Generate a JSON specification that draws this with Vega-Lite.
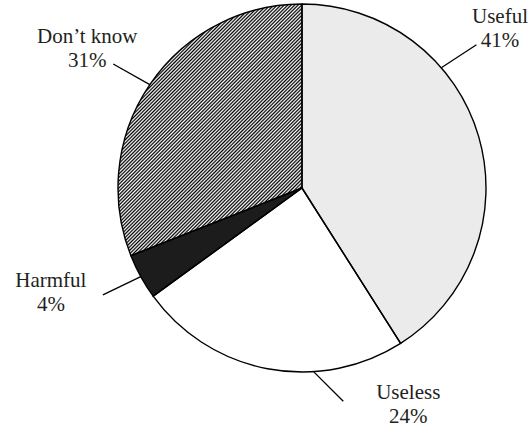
{
  "$schema": "https://vega.github.io/schema/vega-lite/v6.json",
  "width": 368,
  "height": 368,
  "autosize": {"type": "none"},
  "padding": {"left": 118, "top": 4, "right": 43, "bottom": 57},
  "background": "white",
  "config": {"view": {"stroke": null}},
  "data": {
    "values": [
      {"category": "Useful", "percent": 41},
      {"category": "Useless", "percent": 24},
      {"category": "Harmful", "percent": 4},
      {"category": "Don’t know", "percent": 31}
    ]
  },
  "transform": [
    {"window": [{"op": "sum", "field": "percent", "as": "cum"}], "frame": [null, 0]},
    {"calculate": "datum.cum - datum.percent", "as": "start"},
    {"calculate": "(datum.start + datum.percent * (datum.start < 50 ? 1/3 : 1/2)) * 2 * PI / 100", "as": "a"},
    {"calculate": "sin(datum.a) < 0 ? -1 : 1", "as": "side"},
    {"calculate": "184 * sin(datum.a)", "as": "px1"},
    {"calculate": "184 * cos(datum.a)", "as": "py1"},
    {"calculate": "sqrt(1 + pow(cos(datum.a), 2))", "as": "n"},
    {"calculate": "datum.px1 + 42 * datum.side / datum.n", "as": "px2"},
    {"calculate": "datum.py1 + 42 * cos(datum.a) / datum.n", "as": "py2"},
    {"calculate": "clamp(datum.px2 + datum.side * (40 - 25 * cos(datum.a)), -260, 198)", "as": "lx"},
    {"calculate": "datum.py2 + 20 + 12 * cos(datum.a)", "as": "ly"},
    {"calculate": "[datum.category, datum.percent + '%']", "as": "label"}
  ],
  "layer": [
    {
      "mark": {"type": "arc"},
      "encoding": {
        "theta": {"field": "start", "type": "quantitative", "scale": {"domain": [0, 100]}},
        "theta2": {"field": "cum"},
        "color": {
          "field": "category",
          "type": "nominal",
          "scale": {
            "domain": ["Useful", "Useless", "Harmful", "Don’t know"],
            "range": ["#ebebeb", "#ffffff", "#1c1c1c", "#808080"]
          },
          "legend": null
        }
      }
    },
    {
      "transform": [{"filter": "datum.category === 'Don’t know'"}],
      "mark": {
        "type": "arc",
        "fill": {
          "gradient": "linear",
          "x1": 0, "y1": 0, "x2": 0.825, "y2": 1.128,
          "stops": [
            {"offset": 0, "color": "#000"}, {"offset": 0.004, "color": "#fff"}, {"offset": 0.008, "color": "#000"}, {"offset": 0.012, "color": "#fff"}, {"offset": 0.016, "color": "#000"}, {"offset": 0.02, "color": "#fff"}, {"offset": 0.024, "color": "#000"}, {"offset": 0.028, "color": "#fff"}, {"offset": 0.032, "color": "#000"}, {"offset": 0.036, "color": "#fff"},
            {"offset": 0.04, "color": "#000"}, {"offset": 0.044, "color": "#fff"}, {"offset": 0.048, "color": "#000"}, {"offset": 0.052, "color": "#fff"}, {"offset": 0.056, "color": "#000"}, {"offset": 0.06, "color": "#fff"}, {"offset": 0.064, "color": "#000"}, {"offset": 0.068, "color": "#fff"}, {"offset": 0.072, "color": "#000"}, {"offset": 0.076, "color": "#fff"},
            {"offset": 0.08, "color": "#000"}, {"offset": 0.084, "color": "#fff"}, {"offset": 0.088, "color": "#000"}, {"offset": 0.092, "color": "#fff"}, {"offset": 0.096, "color": "#000"}, {"offset": 0.1, "color": "#fff"}, {"offset": 0.104, "color": "#000"}, {"offset": 0.108, "color": "#fff"}, {"offset": 0.112, "color": "#000"}, {"offset": 0.116, "color": "#fff"},
            {"offset": 0.12, "color": "#000"}, {"offset": 0.124, "color": "#fff"}, {"offset": 0.128, "color": "#000"}, {"offset": 0.132, "color": "#fff"}, {"offset": 0.136, "color": "#000"}, {"offset": 0.14, "color": "#fff"}, {"offset": 0.144, "color": "#000"}, {"offset": 0.148, "color": "#fff"}, {"offset": 0.152, "color": "#000"}, {"offset": 0.156, "color": "#fff"},
            {"offset": 0.16, "color": "#000"}, {"offset": 0.164, "color": "#fff"}, {"offset": 0.168, "color": "#000"}, {"offset": 0.172, "color": "#fff"}, {"offset": 0.176, "color": "#000"}, {"offset": 0.18, "color": "#fff"}, {"offset": 0.184, "color": "#000"}, {"offset": 0.188, "color": "#fff"}, {"offset": 0.192, "color": "#000"}, {"offset": 0.196, "color": "#fff"},
            {"offset": 0.2, "color": "#000"}, {"offset": 0.204, "color": "#fff"}, {"offset": 0.208, "color": "#000"}, {"offset": 0.212, "color": "#fff"}, {"offset": 0.216, "color": "#000"}, {"offset": 0.22, "color": "#fff"}, {"offset": 0.224, "color": "#000"}, {"offset": 0.228, "color": "#fff"}, {"offset": 0.232, "color": "#000"}, {"offset": 0.236, "color": "#fff"},
            {"offset": 0.24, "color": "#000"}, {"offset": 0.244, "color": "#fff"}, {"offset": 0.248, "color": "#000"}, {"offset": 0.252, "color": "#fff"}, {"offset": 0.256, "color": "#000"}, {"offset": 0.26, "color": "#fff"}, {"offset": 0.264, "color": "#000"}, {"offset": 0.268, "color": "#fff"}, {"offset": 0.272, "color": "#000"}, {"offset": 0.276, "color": "#fff"},
            {"offset": 0.28, "color": "#000"}, {"offset": 0.284, "color": "#fff"}, {"offset": 0.288, "color": "#000"}, {"offset": 0.292, "color": "#fff"}, {"offset": 0.296, "color": "#000"}, {"offset": 0.3, "color": "#fff"}, {"offset": 0.304, "color": "#000"}, {"offset": 0.308, "color": "#fff"}, {"offset": 0.312, "color": "#000"}, {"offset": 0.316, "color": "#fff"},
            {"offset": 0.32, "color": "#000"}, {"offset": 0.324, "color": "#fff"}, {"offset": 0.328, "color": "#000"}, {"offset": 0.332, "color": "#fff"}, {"offset": 0.336, "color": "#000"}, {"offset": 0.34, "color": "#fff"}, {"offset": 0.344, "color": "#000"}, {"offset": 0.348, "color": "#fff"}, {"offset": 0.352, "color": "#000"}, {"offset": 0.356, "color": "#fff"},
            {"offset": 0.36, "color": "#000"}, {"offset": 0.364, "color": "#fff"}, {"offset": 0.368, "color": "#000"}, {"offset": 0.372, "color": "#fff"}, {"offset": 0.376, "color": "#000"}, {"offset": 0.38, "color": "#fff"}, {"offset": 0.384, "color": "#000"}, {"offset": 0.388, "color": "#fff"}, {"offset": 0.392, "color": "#000"}, {"offset": 0.396, "color": "#fff"},
            {"offset": 0.4, "color": "#000"}, {"offset": 0.404, "color": "#fff"}, {"offset": 0.408, "color": "#000"}, {"offset": 0.412, "color": "#fff"}, {"offset": 0.416, "color": "#000"}, {"offset": 0.42, "color": "#fff"}, {"offset": 0.424, "color": "#000"}, {"offset": 0.428, "color": "#fff"}, {"offset": 0.432, "color": "#000"}, {"offset": 0.436, "color": "#fff"},
            {"offset": 0.44, "color": "#000"}, {"offset": 0.444, "color": "#fff"}, {"offset": 0.448, "color": "#000"}, {"offset": 0.452, "color": "#fff"}, {"offset": 0.456, "color": "#000"}, {"offset": 0.46, "color": "#fff"}, {"offset": 0.464, "color": "#000"}, {"offset": 0.468, "color": "#fff"}, {"offset": 0.472, "color": "#000"}, {"offset": 0.476, "color": "#fff"},
            {"offset": 0.48, "color": "#000"}, {"offset": 0.484, "color": "#fff"}, {"offset": 0.488, "color": "#000"}, {"offset": 0.492, "color": "#fff"}, {"offset": 0.496, "color": "#000"}, {"offset": 0.5, "color": "#fff"}, {"offset": 0.504, "color": "#000"}, {"offset": 0.508, "color": "#fff"}, {"offset": 0.512, "color": "#000"}, {"offset": 0.516, "color": "#fff"},
            {"offset": 0.52, "color": "#000"}, {"offset": 0.524, "color": "#fff"}, {"offset": 0.528, "color": "#000"}, {"offset": 0.532, "color": "#fff"}, {"offset": 0.536, "color": "#000"}, {"offset": 0.54, "color": "#fff"}, {"offset": 0.544, "color": "#000"}, {"offset": 0.548, "color": "#fff"}, {"offset": 0.552, "color": "#000"}, {"offset": 0.556, "color": "#fff"},
            {"offset": 0.56, "color": "#000"}, {"offset": 0.564, "color": "#fff"}, {"offset": 0.568, "color": "#000"}, {"offset": 0.572, "color": "#fff"}, {"offset": 0.576, "color": "#000"}, {"offset": 0.58, "color": "#fff"}, {"offset": 0.584, "color": "#000"}, {"offset": 0.588, "color": "#fff"}, {"offset": 0.592, "color": "#000"}, {"offset": 0.596, "color": "#fff"},
            {"offset": 0.6, "color": "#000"}, {"offset": 0.604, "color": "#fff"}, {"offset": 0.608, "color": "#000"}, {"offset": 0.612, "color": "#fff"}, {"offset": 0.616, "color": "#000"}, {"offset": 0.62, "color": "#fff"}, {"offset": 0.624, "color": "#000"}, {"offset": 0.628, "color": "#fff"}, {"offset": 0.632, "color": "#000"}, {"offset": 0.636, "color": "#fff"},
            {"offset": 0.64, "color": "#000"}, {"offset": 0.644, "color": "#fff"}, {"offset": 0.648, "color": "#000"}, {"offset": 0.652, "color": "#fff"}, {"offset": 0.656, "color": "#000"}, {"offset": 0.66, "color": "#fff"}, {"offset": 0.664, "color": "#000"}, {"offset": 0.668, "color": "#fff"}, {"offset": 0.672, "color": "#000"}, {"offset": 0.676, "color": "#fff"},
            {"offset": 0.68, "color": "#000"}, {"offset": 0.684, "color": "#fff"}, {"offset": 0.688, "color": "#000"}, {"offset": 0.692, "color": "#fff"}, {"offset": 0.696, "color": "#000"}, {"offset": 0.7, "color": "#fff"}, {"offset": 0.704, "color": "#000"}, {"offset": 0.708, "color": "#fff"}, {"offset": 0.712, "color": "#000"}, {"offset": 0.716, "color": "#fff"},
            {"offset": 0.72, "color": "#000"}, {"offset": 0.724, "color": "#fff"}, {"offset": 0.728, "color": "#000"}, {"offset": 0.732, "color": "#fff"}, {"offset": 0.736, "color": "#000"}, {"offset": 0.74, "color": "#fff"}, {"offset": 0.744, "color": "#000"}, {"offset": 0.748, "color": "#fff"}, {"offset": 0.752, "color": "#000"}, {"offset": 0.756, "color": "#fff"},
            {"offset": 0.76, "color": "#000"}, {"offset": 0.764, "color": "#fff"}, {"offset": 0.768, "color": "#000"}, {"offset": 0.772, "color": "#fff"}, {"offset": 0.776, "color": "#000"}, {"offset": 0.78, "color": "#fff"}, {"offset": 0.784, "color": "#000"}, {"offset": 0.788, "color": "#fff"}, {"offset": 0.792, "color": "#000"}, {"offset": 0.796, "color": "#fff"},
            {"offset": 0.8, "color": "#000"}, {"offset": 0.804, "color": "#fff"}, {"offset": 0.808, "color": "#000"}, {"offset": 0.812, "color": "#fff"}, {"offset": 0.816, "color": "#000"}, {"offset": 0.82, "color": "#fff"}, {"offset": 0.824, "color": "#000"}, {"offset": 0.828, "color": "#fff"}, {"offset": 0.832, "color": "#000"}, {"offset": 0.836, "color": "#fff"},
            {"offset": 0.84, "color": "#000"}, {"offset": 0.844, "color": "#fff"}, {"offset": 0.848, "color": "#000"}, {"offset": 0.852, "color": "#fff"}, {"offset": 0.856, "color": "#000"}, {"offset": 0.86, "color": "#fff"}, {"offset": 0.864, "color": "#000"}, {"offset": 0.868, "color": "#fff"}, {"offset": 0.872, "color": "#000"}, {"offset": 0.876, "color": "#fff"},
            {"offset": 0.88, "color": "#000"}, {"offset": 0.884, "color": "#fff"}, {"offset": 0.888, "color": "#000"}, {"offset": 0.892, "color": "#fff"}, {"offset": 0.896, "color": "#000"}, {"offset": 0.9, "color": "#fff"}, {"offset": 0.904, "color": "#000"}, {"offset": 0.908, "color": "#fff"}, {"offset": 0.912, "color": "#000"}, {"offset": 0.916, "color": "#fff"},
            {"offset": 0.92, "color": "#000"}, {"offset": 0.924, "color": "#fff"}, {"offset": 0.928, "color": "#000"}, {"offset": 0.932, "color": "#fff"}, {"offset": 0.936, "color": "#000"}, {"offset": 0.94, "color": "#fff"}, {"offset": 0.944, "color": "#000"}, {"offset": 0.948, "color": "#fff"}, {"offset": 0.952, "color": "#000"}, {"offset": 0.956, "color": "#fff"},
            {"offset": 0.96, "color": "#000"}, {"offset": 0.964, "color": "#fff"}, {"offset": 0.968, "color": "#000"}, {"offset": 0.972, "color": "#fff"}, {"offset": 0.976, "color": "#000"}, {"offset": 0.98, "color": "#fff"}, {"offset": 0.984, "color": "#000"}, {"offset": 0.988, "color": "#fff"}, {"offset": 0.992, "color": "#000"}, {"offset": 0.996, "color": "#fff"},
            {"offset": 1, "color": "#000"}
          ]
        }
      },
      "encoding": {
        "theta": {"field": "start", "type": "quantitative", "scale": {"domain": [0, 100]}},
        "theta2": {"field": "cum"}
      }
    },
    {
      "mark": {"type": "arc", "filled": false, "stroke": "#000000", "strokeWidth": 1.4, "strokeJoin": "miter"},
      "encoding": {
        "theta": {"field": "start", "type": "quantitative", "scale": {"domain": [0, 100]}},
        "theta2": {"field": "cum"}
      }
    },
    {
      "mark": {"type": "rule", "stroke": "#000000", "strokeWidth": 1.3},
      "encoding": {
        "x": {"field": "px1", "type": "quantitative", "scale": {"domain": [-184, 184], "nice": false, "zero": false}, "axis": null},
        "y": {"field": "py1", "type": "quantitative", "scale": {"domain": [-184, 184], "nice": false, "zero": false}, "axis": null},
        "x2": {"field": "px2"},
        "y2": {"field": "py2"}
      }
    },
    {
      "mark": {"type": "text", "font": "Liberation Serif", "fontSize": 21, "lineHeight": 24, "align": "center", "baseline": "middle", "color": "#231f20"},
      "encoding": {
        "x": {"field": "lx", "type": "quantitative", "scale": {"domain": [-184, 184], "nice": false, "zero": false}, "axis": null},
        "y": {"field": "ly", "type": "quantitative", "scale": {"domain": [-184, 184], "nice": false, "zero": false}, "axis": null},
        "text": {"field": "label"}
      }
    }
  ]
}
